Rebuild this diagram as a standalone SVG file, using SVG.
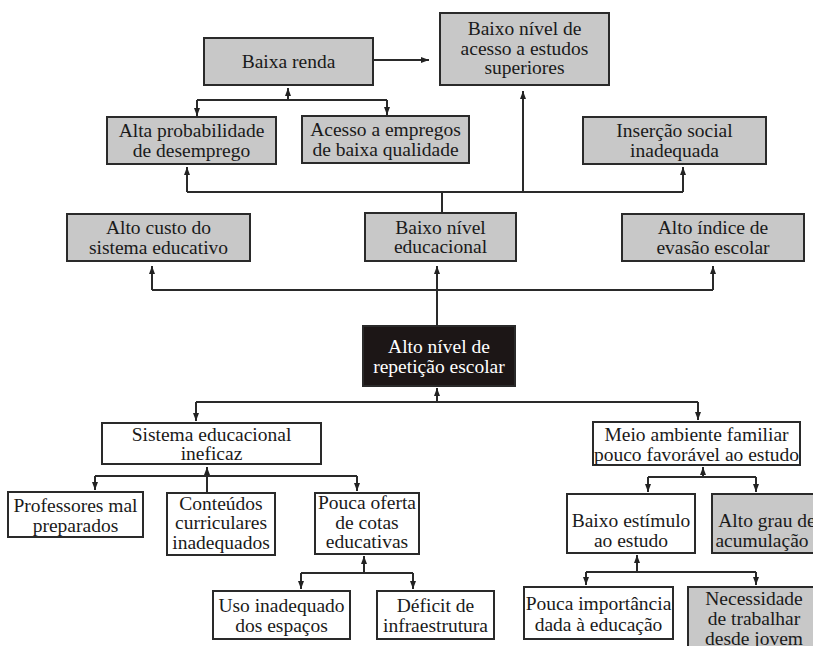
<svg xmlns="http://www.w3.org/2000/svg" width="813" height="646" viewBox="0 0 813 646">
  <defs>
    <marker id="arrow" markerUnits="userSpaceOnUse" markerWidth="8" markerHeight="6" refX="8" refY="3" orient="auto">
      <path d="M0,0 L8,3 L0,6 z" fill="#222"/>
    </marker>
    <style>
      .box { stroke: #2a2a2a; stroke-width: 2; }
      .grey { fill: #c8c8c8; }
      .white { fill: #ffffff; }
      .dark { fill: #1c1616; }
      text { font-family: "Liberation Serif", "Times New Roman", serif; font-size: 19.5px; fill: #1a1a1a; text-anchor: middle; }
      .inv { fill: #ffffff; }
      .wire { fill: none; stroke: #2a2a2a; stroke-width: 2; }
      .arr { fill: none; stroke: #2a2a2a; stroke-width: 2; marker-end: url(#arrow); }
    </style>
  </defs>
  <rect width="813" height="646" fill="#ffffff"/>

  <!-- connectors -->
  <g id="connectors">
    <path class="arr" d="M373,60 H429"/>
    <path class="wire" d="M197,100 H387"/>
    <path class="arr" d="M288,100 V88"/>
    <path class="arr" d="M197,100 V116"/>
    <path class="arr" d="M387,100 V115"/>

    <path class="wire" d="M442,213 V192"/>
    <path class="wire" d="M187,192 H683"/>
    <path class="arr" d="M187,192 V167"/>
    <path class="arr" d="M523,192 V91"/>
    <path class="arr" d="M683,192 V167"/>

    <path class="arr" d="M437,326 V266"/>
    <path class="wire" d="M152,290 H713"/>
    <path class="arr" d="M152,290 V266"/>
    <path class="arr" d="M713,290 V266"/>

    <path class="wire" d="M196,402 H698"/>
    <path class="arr" d="M437,402 V388"/>
    <path class="arr" d="M196,402 V421"/>
    <path class="arr" d="M698,402 V420"/>

    <path class="wire" d="M95,476 H357"/>
    <path class="arr" d="M207,493 V467"/>
    <path class="arr" d="M95,476 V490"/>
    <path class="arr" d="M357,476 V491"/>

    <path class="wire" d="M301,573 H413"/>
    <path class="arr" d="M364,573 V556"/>
    <path class="arr" d="M301,573 V589"/>
    <path class="arr" d="M413,573 V589"/>

    <path class="wire" d="M648,477 H756"/>
    <path class="arr" d="M703,477 V467"/>
    <path class="arr" d="M648,477 V492"/>
    <path class="arr" d="M756,477 V492"/>

    <path class="wire" d="M586,572 H756"/>
    <path class="arr" d="M637,572 V555"/>
    <path class="arr" d="M586,572 V585"/>
    <path class="arr" d="M756,572 V585"/>
  </g>

  <!-- effects -->
  <g id="n-acesso-superior">
    <rect class="box grey" x="440" y="13" width="169" height="72"/>
    <text x="524.5" y="35">Baixo nível de</text>
    <text x="524.5" y="54.5">acesso a estudos</text>
    <text x="524.5" y="74">superiores</text>
  </g>
  <g id="n-baixa-renda">
    <rect class="box grey" x="204" y="38" width="169" height="47"/>
    <text x="288.5" y="68">Baixa renda</text>
  </g>
  <g id="n-desemprego">
    <rect class="box grey" x="107" y="117" width="169" height="47"/>
    <text x="191.5" y="137">Alta probabilidade</text>
    <text x="191.5" y="156.5">de desemprego</text>
  </g>
  <g id="n-empregos">
    <rect class="box grey" x="302" y="116" width="167" height="47"/>
    <text x="385.5" y="136">Acesso a empregos</text>
    <text x="385.5" y="155.5">de baixa qualidade</text>
  </g>
  <g id="n-insercao">
    <rect class="box grey" x="583" y="117" width="183" height="47"/>
    <text x="674.5" y="137">Inserção social</text>
    <text x="674.5" y="156.5">inadequada</text>
  </g>
  <g id="n-custo">
    <rect class="box grey" x="67" y="214" width="183" height="47"/>
    <text x="158.5" y="234">Alto custo do</text>
    <text x="158.5" y="253.5">sistema educativo</text>
  </g>
  <g id="n-nivel-educacional">
    <rect class="box grey" x="365" y="213" width="151" height="48"/>
    <text x="440.5" y="233.5">Baixo nível</text>
    <text x="440.5" y="253">educacional</text>
  </g>
  <g id="n-evasao">
    <rect class="box grey" x="622" y="214" width="182" height="47"/>
    <text x="713" y="234">Alto índice de</text>
    <text x="713" y="253.5">evasão escolar</text>
  </g>

  <!-- central problem -->
  <g id="n-repeticao">
    <rect class="box dark" x="363" y="326" width="152" height="60"/>
    <text class="inv" x="439" y="353">Alto nível de</text>
    <text class="inv" x="439" y="372.5">repetição escolar</text>
  </g>

  <!-- causes -->
  <g id="n-sistema">
    <rect class="box white" x="102" y="423" width="219" height="41"/>
    <text x="211.5" y="441">Sistema educacional</text>
    <text x="211.5" y="460">ineficaz</text>
  </g>
  <g id="n-professores">
    <rect class="box white" x="8" y="492" width="135" height="45"/>
    <text x="75.5" y="512">Professores mal</text>
    <text x="75.5" y="531.5">preparados</text>
  </g>
  <g id="n-conteudos">
    <rect class="box white" x="167" y="493" width="108" height="62"/>
    <text x="221" y="509.5">Conteúdos</text>
    <text x="221" y="529">curriculares</text>
    <text x="221" y="548.5">inadequados</text>
  </g>
  <g id="n-oferta">
    <rect class="box white" x="315" y="493" width="104" height="61"/>
    <text x="367" y="509">Pouca oferta</text>
    <text x="367" y="528.5">de cotas</text>
    <text x="367" y="548">educativas</text>
  </g>
  <g id="n-espacos">
    <rect class="box white" x="213" y="591" width="137" height="48"/>
    <text x="281.5" y="611.5">Uso inadequado</text>
    <text x="281.5" y="631.5">dos espaços</text>
  </g>
  <g id="n-infraestrutura">
    <rect class="box white" x="377" y="591" width="117" height="48"/>
    <text x="435.5" y="611.5">Déficit de</text>
    <text x="435.5" y="631.5">infraestrutura</text>
  </g>
  <g id="n-meio-familiar">
    <rect class="box white" x="593" y="422" width="207" height="43"/>
    <text x="696.5" y="441">Meio ambiente familiar</text>
    <text x="696.5" y="460.5">pouco favorável ao estudo</text>
  </g>
  <g id="n-estimulo">
    <rect class="box white" x="567" y="494" width="128" height="59"/>
    <text x="631" y="527">Baixo estímulo</text>
    <text x="631" y="546.5">ao estudo</text>
  </g>
  <g id="n-acumulacao">
    <rect class="box grey" x="712" y="494" width="120" height="59"/>
    <text x="767" y="527">Alto grau de</text>
    <text x="762" y="546.5">acumulação</text>
  </g>
  <g id="n-importancia">
    <rect class="box white" x="524" y="587" width="149" height="52"/>
    <text x="598.5" y="610">Pouca importância</text>
    <text x="598.5" y="631">dada à educação</text>
  </g>
  <g id="n-trabalhar">
    <rect class="box grey" x="688" y="587" width="140" height="80"/>
    <text x="754" y="605">Necessidade</text>
    <text x="754" y="625">de trabalhar</text>
    <text x="754" y="644.5">desde jovem</text>
  </g>
</svg>
